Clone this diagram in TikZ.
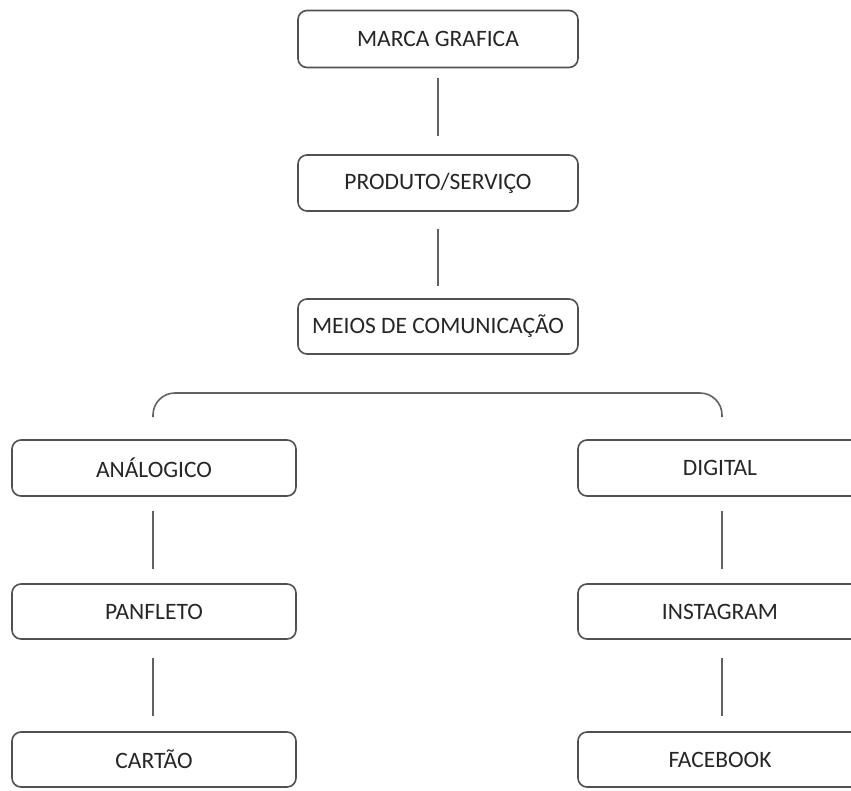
\documentclass[tikz,border=0pt]{standalone}
\usepackage{fontspec}
\setmainfont{Carlito}
\definecolor{boxline}{HTML}{505050}
\definecolor{txt}{HTML}{262626}
\begin{document}
\begin{tikzpicture}[x=1pt,y=-1pt,
  box/.style={draw=boxline, line width=1.6pt, rounded corners=9pt, minimum width=280pt, inner sep=0pt, text=txt, font=\fontsize{23.5}{27}\selectfont},
  link/.style={draw=boxline!90, line width=1.6pt}]
\useasboundingbox[fill=white] (0,0) rectangle (851,790);
\node[box, minimum height=57pt] (marca) at (438,39) {MARCA GRAFICA};
\node[box, minimum height=56pt] (prod) at (438,183) {PRODUTO/SERVIÇO};
\node[box, minimum height=55pt] (meios) at (438,326.5) {MEIOS DE COMUNICAÇÃO};
\node[box, minimum width=284pt, minimum height=56pt] (ana) at (154,468) {ANÁLOGICO};
\node[box, minimum width=284pt, minimum height=55pt] (pan) at (154,611.5) {PANFLETO};
\node[box, minimum width=284pt, minimum height=55pt] (car) at (154,759.5) {CARTÃO};
\node[box, minimum width=284pt, minimum height=56pt] (dig) at (720,468) {DIGITAL};
\node[box, minimum width=284pt, minimum height=55pt] (ins) at (720,611.5) {INSTAGRAM};
\node[box, minimum width=284pt, minimum height=55pt] (fac) at (720,759.5) {FACEBOOK};
\coordinate (bl) at (153,417);
\coordinate (br) at (722,417);
\coordinate (bt) at (438,393);
\draw[link] ([yshift=-10pt]marca.south) -- ([yshift=18pt]prod.north);
\draw[link] ([yshift=-17pt]prod.south) -- ([yshift=12pt]meios.north);
\draw[link, rounded corners=22pt] (bl) |- (bt) -| (br);
\draw[link] ([xshift=-1pt,yshift=-14pt]ana.south) -- ([xshift=-1pt,yshift=14pt]pan.north);
\draw[link] ([xshift=-1pt,yshift=-18pt]pan.south) -- ([xshift=-1pt,yshift=15pt]car.north);
\draw[link] ([xshift=2pt,yshift=-14pt]dig.south) -- ([xshift=2pt,yshift=14pt]ins.north);
\draw[link] ([xshift=2pt,yshift=-18pt]ins.south) -- ([xshift=2pt,yshift=15pt]fac.north);
\end{tikzpicture}
\end{document}
